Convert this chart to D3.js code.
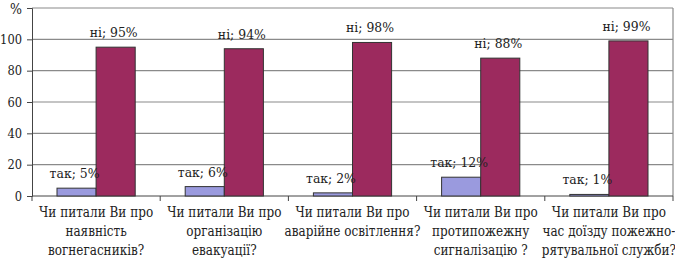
<!DOCTYPE html>
<html>
<head>
<meta charset="utf-8">
<script src="https://cdn.jsdelivr.net/npm/d3@7"></script>
<style>
  body { margin: 0; background: #fff; }
</style>
</head>
<body>
<div id="chart"></div>
<script>
// дані
var categories = [
  ["Чи питали Ви про", "наявність", "вогнегасників?"],
  ["Чи питали Ви про", "організацію", "евакуації?"],
  ["Чи питали Ви про", "аварійне освітлення?"],
  ["Чи питали Ви про", "протипожежну", "сигналізацію ?"],
  ["Чи питали Ви про", "час доїзду пожежно-", "рятувальної служби?"]
];
var seriesNames = ["так", "ні"];
var yesValues = [5, 6, 2, 12, 1];
var noValues = [95, 94, 98, 88, 99];
var yTicks = [0, 20, 40, 60, 80, 100];
var colors = ["#9a9ade", "#9c2a5e"];

var FONT = "'DejaVu Serif', serif";

var width = 675, height = 260;
var margin = {top: 8, right: 2, bottom: 64, left: 32};
var w = width - margin.left - margin.right;
var h = height - margin.top - margin.bottom;

var svg = d3.select("#chart").append("svg")
  .attr("width", width)
  .attr("height", height)
  .attr("font-family", FONT);

var g = svg.append("g").attr("transform", "translate(" + margin.left + "," + margin.top + ")");

var idx = d3.range(categories.length);
var x0 = d3.scaleBand().domain(idx).range([0, w]).paddingInner(0.39).paddingOuter(0.195);
var x1 = d3.scaleBand().domain(seriesNames).range([0, x0.bandwidth()]);
var y = d3.scaleLinear().domain([0, 120]).range([h, 0]);

// сітка
g.selectAll(".grid")
  .data(yTicks.slice(1).concat([120]))
  .enter().append("line")
  .attr("x1", 0).attr("x2", w)
  .attr("y1", function(d) { return y(d); })
  .attr("y2", function(d) { return y(d); })
  .style("stroke", "#8a8a8a").style("stroke-width", 1.2);

// права рамка
g.append("line")
  .attr("x1", w).attr("x2", w).attr("y1", 0).attr("y2", h)
  .style("stroke", "#8a8a8a").style("stroke-width", 1.2);

// вісь Y
var yAxis = g.append("g")
  .call(d3.axisLeft(y).tickValues(yTicks).tickSize(5).tickPadding(5));
yAxis.attr("font-family", FONT);
yAxis.selectAll("text")
  .attr("x", 0)
  .attr("transform", "translate(-10,0) scale(0.85,1)")
  .style("font-family", FONT).style("font-size", "13.5px").style("fill", "#222");
yAxis.selectAll("line, path").style("stroke", "#444");

g.append("text")
  .attr("transform", "translate(-10,6) scale(0.9,1)")
  .attr("text-anchor", "end")
  .style("font-family", FONT)
  .style("font-size", "14px")
  .style("fill", "#222")
  .text("%");

// вісь X
var step = x0.step();
g.append("line")
  .attr("x1", 0).attr("x2", w).attr("y1", h).attr("y2", h)
  .style("stroke", "#444");
g.selectAll(".xtick")
  .data(d3.range(categories.length + 1))
  .enter().append("line")
  .attr("x1", function(d) { return d * step; })
  .attr("x2", function(d) { return d * step; })
  .attr("y1", h).attr("y2", h + 5)
  .style("stroke", "#444");

// стовпчики
var rows = idx.map(function(i) {
  return [
    {key: seriesNames[0], value: yesValues[i]},
    {key: seriesNames[1], value: noValues[i]}
  ];
});

var groups = g.selectAll(".group")
  .data(rows)
  .enter().append("g")
  .attr("transform", function(d, i) { return "translate(" + x0(i) + ",0)"; });

groups.selectAll("rect")
  .data(function(d) { return d; })
  .enter().append("rect")
  .attr("x", function(d) { return x1(d.key); })
  .attr("y", function(d) { return y(d.value); })
  .attr("width", x1.bandwidth())
  .attr("height", function(d) { return h - y(d.value); })
  .style("fill", function(d, i) { return colors[i]; })
  .style("stroke", "#333")
  .style("stroke-width", 1);

groups.selectAll(".lbl")
  .data(function(d) { return d; })
  .enter().append("text")
  .attr("transform", function(d) {
    return "translate(" + (x1(d.key) + x1.bandwidth() / 2 - 2) + "," + (y(d.value) - 10) + ") scale(0.92,1)";
  })
  .attr("text-anchor", "middle")
  .style("font-family", FONT)
  .style("font-size", "13.5px")
  .style("fill", "#222")
  .text(function(d) { return d.key + "; " + d.value + "%"; });

// підписи категорій
g.selectAll(".cat")
  .data(categories)
  .enter().append("text")
  .attr("text-anchor", "middle")
  .attr("transform", function(d, i) { return "translate(" + (x0(i) + x0.bandwidth() / 2) + "," + (h + 21) + ") scale(0.86,1)"; })
  .style("font-family", FONT)
  .style("font-size", "14px")
  .style("fill", "#222")
  .each(function(d) {
    var t = d3.select(this);
    d.forEach(function(line, k) {
      t.append("tspan").attr("x", 0).attr("dy", k === 0 ? 0 : 19).text(line);
    });
  });
</script>
</body>
</html>
